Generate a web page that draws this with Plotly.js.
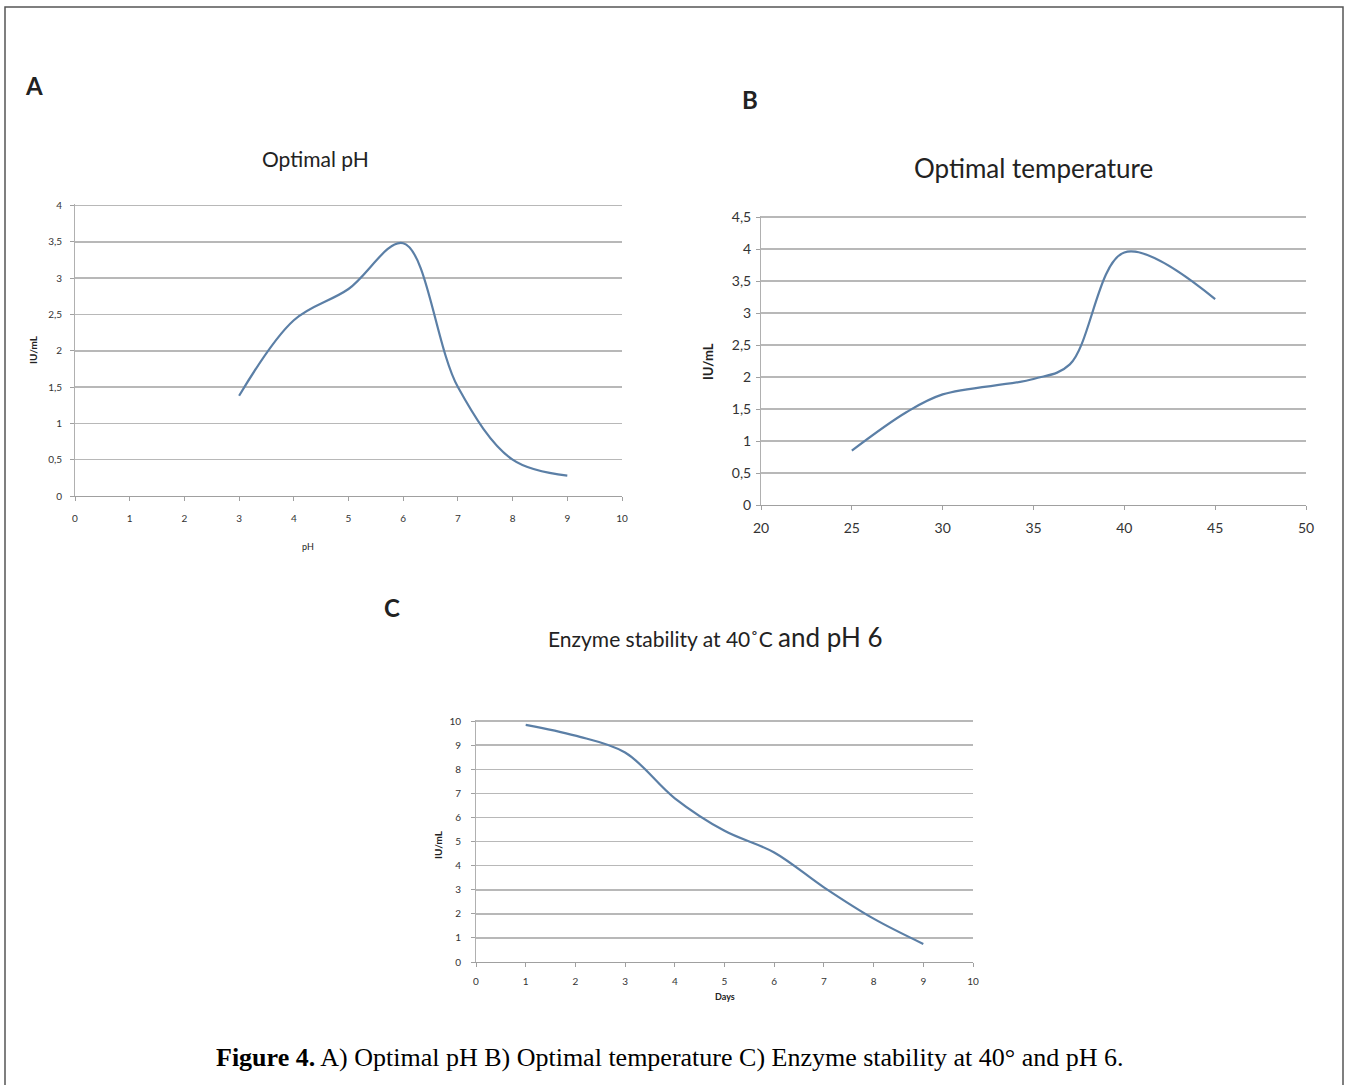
<!DOCTYPE html>
<html>
<head>
<meta charset="utf-8">
<script src="https://cdn.plot.ly/plotly-3.0.1.min.js"></script>
<style>
html,body{margin:0;padding:0;background:#fff;}
#chart{width:1346px;height:1085px;}
</style>
</head>
<body>
<div id="chart"></div>
<script>
// Panel A: Optimal pH
const phValues = [3, 4, 5, 6, 7, 8, 9];
const phActivity = [1.38, 2.42, 2.85, 3.48, 1.5, 0.5, 0.28];
// Panel B: Optimal temperature
const tempValues = [25, 28, 30, 35, 37, 40, 45];
const tempActivity = [0.85, 1.45, 1.73, 1.97, 2.2, 3.95, 3.22];
// Panel C: Enzyme stability
const dayValues = [1, 2, 3, 4, 5, 6, 7, 8, 9];
const dayActivity = [9.85, 9.4, 8.7, 6.8, 5.45, 4.55, 3.1, 1.8, 0.75];

const W = 1346, H = 1085;
const px = v => v / W;
const py = v => 1 - v / H;

const lineColor = '#5b7fa6';
const gridColor = '#b8b8b8';
const font = 'Lato, "Open Sans", sans-serif';

function trace(x, y, xa, ya) {
  return {x: x, y: y, xaxis: xa, yaxis: ya, type: 'scatter', mode: 'lines',
    line: {color: lineColor, width: 2.2, shape: 'spline', smoothing: 1},
    hoverinfo: 'x+y', showlegend: false};
}

function xaxis(domain, range, dtick, anchor, fs, so) {
  return {domain: domain, range: range, dtick: dtick, tick0: range[0], anchor: anchor,
    showgrid: false, zeroline: false, showline: true, linecolor: '#a0a0a0', linewidth: 1,
    ticks: 'outside', ticklen: 4, tickcolor: '#a0a0a0', fixedrange: true,
    ticklabelstandoff: so,
    tickfont: {family: font, size: fs, color: '#333'}};
}
function yaxis(domain, range, dtick, anchor, fs, so) {
  return {domain: domain, range: range, dtick: dtick, tick0: 0, anchor: anchor,
    showgrid: true, gridcolor: gridColor, gridwidth: 1.6, zeroline: false,
    showline: true, linecolor: '#b0b0b0', linewidth: 1,
    ticks: 'outside', ticklen: 4, tickcolor: '#a0a0a0', fixedrange: true,
    ticklabelstandoff: so,
    tickfont: {family: font, size: fs, color: '#333'}};
}

const data = [
  trace(phValues, phActivity, 'x', 'y'),
  trace(tempValues, tempActivity, 'x2', 'y2'),
  trace(dayValues, dayActivity, 'x3', 'y3')
];

function ann(text, x, y, size, opts) {
  return Object.assign({text: text, x: px(x), y: py(y), xref: 'paper', yref: 'paper',
    showarrow: false, xanchor: 'center', yanchor: 'middle',
    font: {family: font, size: size, color: '#222'}}, opts || {});
}

const layout = {
  width: W, height: H,
  margin: {l: 0, r: 0, t: 0, b: 0},
  paper_bgcolor: '#fff', plot_bgcolor: '#fff',
  separators: ', ',
  showlegend: false,
  xaxis: xaxis([px(75), px(622)], [0, 10], 1, 'y', 10, 9),
  yaxis: yaxis([py(496), py(204)], [0, 4.02], 0.5, 'x', 10, 6),
  xaxis2: xaxis([px(761), px(1306)], [20, 50], 5, 'y2', 14, 6),
  yaxis2: yaxis([py(505), py(216)], [0, 4.52], 0.5, 'x2', 14, 2),
  xaxis3: xaxis([px(476), px(973)], [0, 10], 1, 'y3', 10, 6),
  yaxis3: yaxis([py(962), py(720)], [0, 10.05], 1, 'x3', 10, 8),
  shapes: [
    {type: 'rect', xref: 'paper', yref: 'paper', x0: px(5), x1: px(1343), y0: -0.02, y1: py(7),
     line: {color: '#555', width: 1.5}, fillcolor: 'rgba(0,0,0,0)', layer: 'below'}
  ],
  annotations: [
    ann('<b>A</b>', 34, 85, 24),
    ann('<b>B</b>', 750, 99, 24),
    ann('<b>C</b>', 392, 607, 24),
    ann('Optimal pH', 315, 158, 21),
    ann('Optimal temperature', 1033, 168, 26),
    ann('Enzyme stability at 40˚C <span style="font-size:26px">and pH 6</span>', 715, 637, 21),
    ann('<b>IU/mL</b>', 33, 350, 10, {textangle: -90}),
    ann('<b>IU/mL</b>', 708, 362, 13, {textangle: -90}),
    ann('<b>IU/mL</b>', 438, 845, 10, {textangle: -90}),
    ann('pH', 308, 546, 9),
    ann('<b>Days</b>', 725, 996, 9),
    ann('<b>Figure 4.</b> A) Optimal pH B) Optimal temperature C) Enzyme stability at 40° and pH 6.', 669, 1057, 26,
        {font: {family: '"Liberation Serif", "Times New Roman", serif', size: 26, color: '#000'}})
  ]
};

Plotly.newPlot('chart', data, layout, {displayModeBar: false, staticPlot: true});
</script>
</body>
</html>
